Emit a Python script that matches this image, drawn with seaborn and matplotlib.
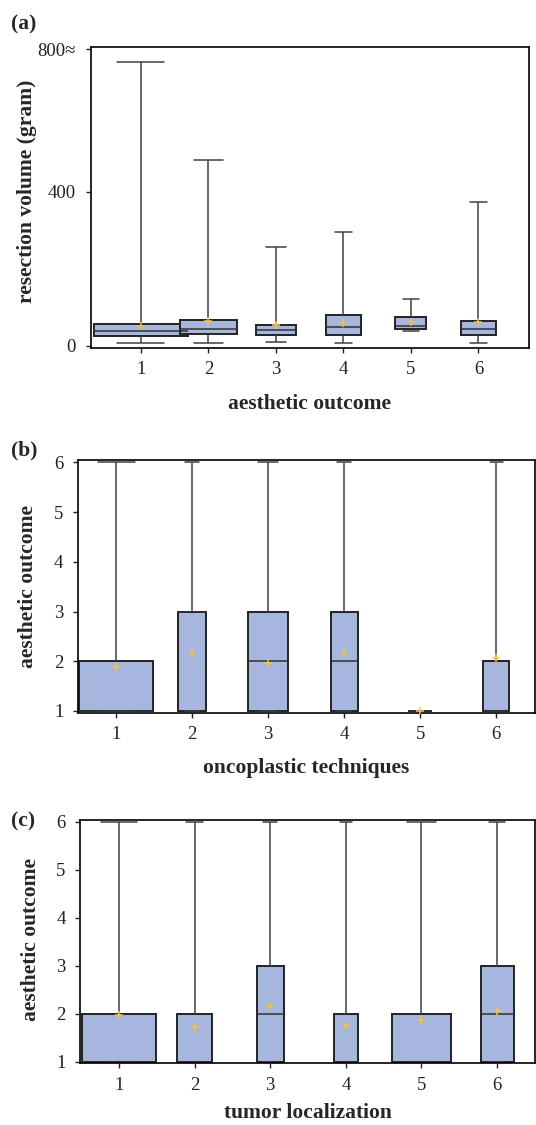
import matplotlib
matplotlib.use("Agg")
from matplotlib import pyplot as plt
import pandas as pd
import seaborn as sns

sns.set_style("ticks")
plt.rcParams['font.family'] = ['Liberation Serif', 'DejaVu Serif']

groups = [1, 2, 3, 4, 5, 6]

# (a) resection volume (gram) by aesthetic outcome: min, q1, median, q3, max
vol_min = [7, 8, 10, 7, 39, 9]
vol_q1 = [27, 30, 29, 28, 45, 28]
vol_med = [40, 45, 42, 49, 52, 43]
vol_q3 = [58, 68, 55, 80, 74, 66]
vol_max = [736, 482, 257, 295, 122, 373]
vol_mean = [52, 64, 55, 59, 62, 62]
vol_width = [1.39, 0.84, 0.60, 0.51, 0.46, 0.51]

# (b) aesthetic outcome by oncoplastic technique
tech_min = [1, 1, 1, 1, 1, 1]
tech_q1 = [1, 1, 1, 1, 1, 1]
tech_med = [1, 3, 2, 2, 1, 1]
tech_q3 = [2, 3, 3, 3, 1, 2]
tech_max = [6, 6, 6, 6, 1, 6]
tech_mean = [1.88, 2.16, 1.97, 2.17, 1.0, 2.07]
tech_width = [0.98, 0.37, 0.52, 0.36, 0.31, 0.34]

# (c) aesthetic outcome by tumor localization
loc_min = [1, 1, 1, 1, 1, 1]
loc_q1 = [1, 1, 1, 1, 1, 1]
loc_med = [1, 1, 2, 1, 1, 2]
loc_q3 = [2, 2, 3, 2, 2, 3]
loc_max = [6, 6, 6, 6, 6, 6]
loc_mean = [1.97, 1.72, 2.16, 1.76, 1.87, 2.06]
loc_width = [0.97, 0.47, 0.355, 0.31, 0.78, 0.44]

box_color = '#a7b6dd'
mean_color = '#f6c244'


def draw_panel(ax, mins, q1s, meds, q3s, maxs, means, widths):
    # five-number summary per group, whiskers go to min / max
    for g, a, b, c, d, e, w in zip(groups, mins, q1s, meds, q3s, maxs, widths):
        df = pd.DataFrame({'x': [g] * 5, 'y': [a, b, c, d, e]})
        sns.boxplot(data=df, x='x', y='y', native_scale=True, width=w,
                    whis=(0, 100), color=box_color, linecolor='#222222',
                    linewidth=1.4, saturation=1, ax=ax,
                    whiskerprops={'color': '#404040', 'linewidth': 1.1},
                    capprops={'color': '#404040', 'linewidth': 1.1},
                    medianprops={'color': '#303030', 'linewidth': 1.1})
    sns.scatterplot(x=groups, y=means, marker='+', color=mean_color, s=30,
                    linewidth=1.1, zorder=5, ax=ax)
    ax.set_xticks(groups)
    ax.set_xticklabels([str(g) for g in groups])
    for s in ax.spines.values():
        s.set_visible(True)
        s.set_linewidth(1.2)
        s.set_color('black')
    ax.tick_params(axis='both', labelsize=13.5, length=3.5, width=1,
                   colors='#222222')
    ax.tick_params(axis='y', pad=7)
    ax.tick_params(axis='x', pad=6)


fig = plt.figure(figsize=(5.36, 11.25), dpi=100)
ax1 = fig.add_axes([0.169, 0.6904, 0.818, 0.2681])
ax2 = fig.add_axes([0.1453, 0.3665, 0.8528, 0.2246])
ax3 = fig.add_axes([0.1498, 0.0548, 0.8483, 0.2163])

draw_panel(ax1, vol_min, vol_q1, vol_med, vol_q3, vol_max, vol_mean, vol_width)
ax1.set_xlim(0.256, 6.75)
ax1.set_ylim(-6, 777)
ax1.set_yticks([0, 400, 770])
ax1.set_yticklabels(['0', '400', '800≈'])
ax1.set_xlabel('aesthetic outcome', fontsize=15.5, fontweight='bold', labelpad=11)
ax1.set_ylabel('resection volume (gram)', fontsize=15.5, fontweight='bold')
ax1.yaxis.set_label_coords(-0.123, 0.52)

draw_panel(ax2, tech_min, tech_q1, tech_med, tech_q3, tech_max, tech_mean, tech_width)
ax2.set_xlim(0.496, 6.51)
ax2.set_ylim(0.966, 6.046)
ax2.set_yticks([1, 2, 3, 4, 5, 6])
ax2.set_xlabel('oncoplastic techniques', fontsize=15.5, fontweight='bold', labelpad=11)
ax2.set_ylabel('aesthetic outcome', fontsize=15.5, fontweight='bold')
ax2.yaxis.set_label_coords(-0.087, 0.50)

draw_panel(ax3, loc_min, loc_q1, loc_med, loc_q3, loc_max, loc_mean, loc_width)
ax3.set_xlim(0.49, 6.5)
ax3.set_ylim(0.967, 6.035)
ax3.set_yticks([1, 2, 3, 4, 5, 6])
ax3.set_xlabel('tumor localization', fontsize=15.5, fontweight='bold', labelpad=7)
ax3.set_ylabel('aesthetic outcome', fontsize=15.5, fontweight='bold')
ax3.yaxis.set_label_coords(-0.0864, 0.507)

fig.text(0.02, 0.978, '(a)', fontsize=15.5, fontweight='bold', va='center')
fig.text(0.02, 0.600, '(b)', fontsize=15.5, fontweight='bold', va='center')
fig.text(0.02, 0.270, '(c)', fontsize=15.5, fontweight='bold', va='center')

fig.savefig('out.png', dpi=100)
